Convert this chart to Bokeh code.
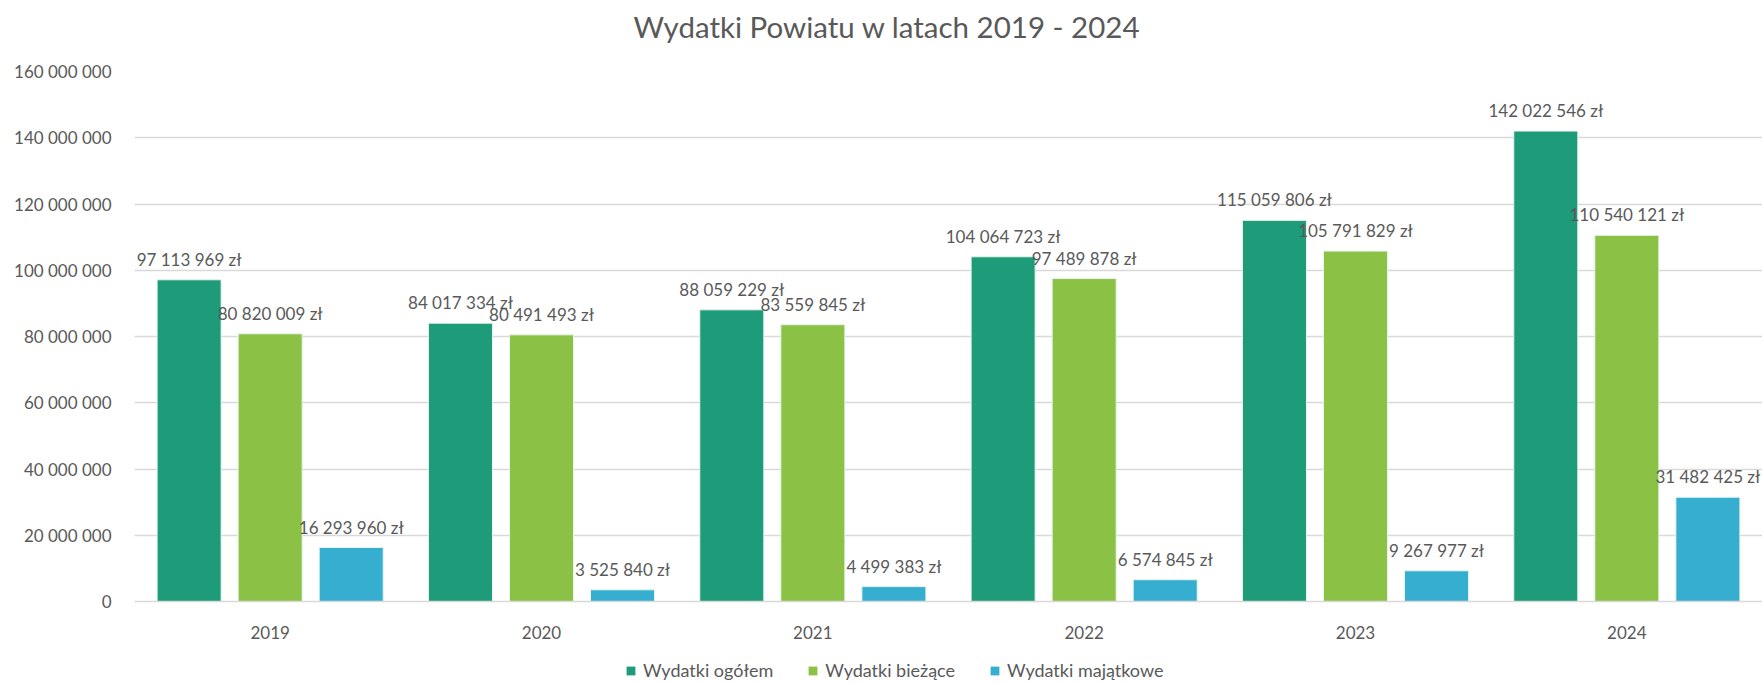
from bokeh.plotting import figure
from bokeh.layouts import column
from bokeh.models import (ColumnDataSource, FactorRange, LabelSet, Legend,
                          LegendItem, FixedTicker, Title, Range1d)
from bokeh.transform import dodge
from bokeh.embed import file_html
from bokeh.resources import INLINE
from bokeh.core.properties import value

# ---- data ----
years = ["2019", "2020", "2021", "2022", "2023", "2024"]
ogolem = [97113969, 84017334, 88059229, 104064723, 115059806, 142022546]
biezace = [80820009, 80491493, 83559845, 97489878, 105791829, 110540121]
majatkowe = [16293960, 3525840, 4499383, 6574845, 9267977, 31482425]
series_names = ["Wydatki ogółem", "Wydatki bieżące", "Wydatki majątkowe"]
y_ticks = [0, 20000000, 40000000, 60000000, 80000000, 100000000,
           120000000, 140000000, 160000000]
y_tick_labels = ["0", "20 000 000", "40 000 000", "60 000 000", "80 000 000",
                 "100 000 000", "120 000 000", "140 000 000", "160 000 000"]
title_text = "Wydatki Powiatu w latach 2019 - 2024"

# ---- style ----
colors = ["#1E9B79", "#8BC145", "#36AECF"]
TXT = "#595959"
GRID = "#D9D9D9"
FONT = "Lato"
W = 1762
H_MAIN, H_LEG = 650, 33
offsets = [-0.2987, 0.0, 0.2987]
bar_w = 0.236


def fmt(v):
    return f"{v:,}".replace(",", " ") + " zł"


p = figure(x_range=FactorRange(*years), y_range=(0, 160000000),
           width=W, height=H_MAIN, output_backend="svg", toolbar_location=None,
           min_border_left=134, min_border_right=0, min_border_top=71,
           min_border_bottom=49)
p.x_range.range_padding = 0
p.outline_line_color = None
p.background_fill_color = "white"
p.border_fill_color = "white"

p.xgrid.grid_line_color = None
p.ygrid.grid_line_color = GRID
p.ygrid.grid_line_width = 1.4

p.yaxis.ticker = FixedTicker(ticks=y_ticks)
p.yaxis.major_label_overrides = {t: l for t, l in zip(y_ticks, y_tick_labels)}
p.yaxis.axis_line_color = None
p.yaxis.major_tick_line_color = None
p.yaxis.minor_tick_line_color = None
p.yaxis.major_label_standoff = 17
p.yaxis.major_label_text_font = FONT
p.yaxis.major_label_text_font_size = "17px"
p.yaxis.major_label_text_color = TXT

p.xaxis.axis_line_color = GRID
p.xaxis.axis_line_width = 1.4
p.xaxis.major_tick_line_color = None
p.xaxis.minor_tick_line_color = None
p.xaxis.major_label_standoff = 18
p.xaxis.major_label_text_font = FONT
p.xaxis.major_label_text_font_size = "17px"
p.xaxis.major_label_text_color = TXT

for name, vals, col, off in zip(series_names, [ogolem, biezace, majatkowe], colors, offsets):
    src = ColumnDataSource(dict(year=years, val=vals, lab=[fmt(v) for v in vals]))
    p.vbar(x=dodge("year", off, range=p.x_range), top="val", width=bar_w,
           source=src, fill_color=col, line_color="#E8F4EE", line_width=1)
    ls = LabelSet(x=dodge("year", off, range=p.x_range), y="val", text="lab",
                  source=src, text_align="center", text_baseline="alphabetic",
                  y_offset=14, text_font=value(FONT), text_font_size="17px",
                  text_color=TXT)
    p.add_layout(ls)

title = Title(text=title_text, align="left", offset=499, standoff=0,
              vertical_align="bottom",
              padding=dict(left=0, right=0, top=0, bottom=28),
              text_font=FONT, text_font_size="29.5px", text_color=TXT,
              text_font_style="normal")
p.add_layout(title, "above")

# ---- legend strip ----
pl = figure(width=W, height=H_LEG, x_range=Range1d(0, W), y_range=Range1d(0, H_LEG),
            output_backend="svg", toolbar_location=None,
            x_axis_type=None, y_axis_type=None,
            min_border_left=0, min_border_right=0, min_border_top=0,
            min_border_bottom=0)
pl.outline_line_color = None
pl.xgrid.visible = False
pl.ygrid.visible = False
items = []
for name, col in zip(series_names, colors):
    # zero-height proxy bar: only supplies the legend swatch colour
    r = pl.vbar(x=[0], top=[0], width=1, fill_color=col, line_color=None)
    items.append(LegendItem(label=name, renderers=[r]))
legend = Legend(items=items, orientation="horizontal", location=(491, 2),
                glyph_width=11, glyph_height=11, label_standoff=7, spacing=34,
                padding=0, margin=0, border_line_color=None,
                background_fill_alpha=0, label_text_font=FONT,
                label_text_font_size="18px", label_text_color=TXT,
                label_height=18)
pl.add_layout(legend, "center")

layout = column(p, pl, spacing=0)
open("out.html", "w").write(file_html(layout, INLINE))
